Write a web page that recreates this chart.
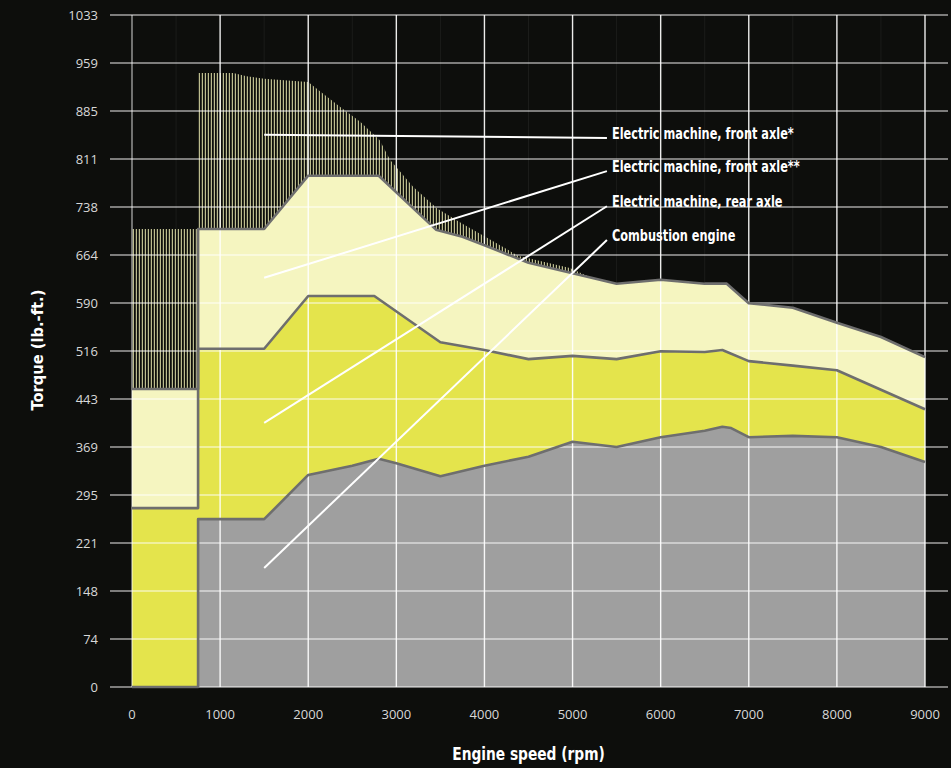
<!DOCTYPE html>
<html>
<head>
<meta charset="utf-8">
<script src="https://cdn.jsdelivr.net/npm/d3@7"></script>
<style>
  html, body { margin: 0; padding: 0; background: #0d0e0c; }
  #chart svg { display: block; }
</style>
</head>
<body>
<div id="chart"></div>
<script>
// engine speed (rpm) / torque (lb.-ft.), each array is the top edge of a stacked layer
const combustionRpm = [0, 750, 750, 1500, 2000, 2500, 2800, 3000, 3500, 4000, 4500, 5000, 5500, 6000, 6500, 6700, 6800, 7000, 7500, 8000, 8500, 9000];
const combustionTorque = [0, 0, 258, 258, 326, 340, 351, 344, 324, 340, 354, 377, 369, 384, 394, 400, 398, 384, 386, 384, 369, 346];

const rearAxleRpm = [0, 750, 750, 1500, 2000, 2750, 3500, 4000, 4500, 5000, 5500, 6000, 6500, 6700, 7000, 7500, 8000, 9000];
const rearAxleTorque = [275, 275, 520, 520, 601, 601, 530, 518, 504, 509, 504, 516, 515, 518, 501, 494, 487, 427];

const frontAxle2Rpm = [0, 750, 750, 1500, 2000, 2800, 3450, 3750, 4000, 4500, 5000, 5500, 6000, 6500, 6750, 7000, 7500, 8000, 8500, 9000];
const frontAxle2Torque = [458, 458, 704, 704, 786, 786, 703, 692, 679, 652, 636, 620, 626, 620, 620, 590, 583, 560, 538, 507];

const frontAxle1Rpm = [0, 750, 750, 1150, 1300, 1500, 2000, 2130, 2360, 2590, 2810, 2930, 3190, 3460, 3750, 4000, 4380, 4970, 5200];
const frontAxle1Torque = [704, 704, 944, 944, 939, 935, 930, 916, 892, 869, 841, 810, 769, 736, 712, 693, 663, 644, 630];

const xTickValues = [0, 1000, 2000, 3000, 4000, 5000, 6000, 7000, 8000, 9000];
const yTickLabels = ["0", "74", "148", "221", "295", "369", "443", "516", "590", "664", "738", "811", "885", "959", "1033"];

const legendLabels = [
  "Electric machine, front axle*",
  "Electric machine, front axle**",
  "Electric machine, rear axle",
  "Combustion engine",
];
// leader line anchors in data units: start inside the layer, end next to the label
const leaderStart = [[1500, 849], [1500, 629], [1500, 406], [1500, 183]];
const leaderEnd = [[5390, 844], [5390, 793], [5390, 739], [5390, 687]];

const condensed = "'Liberation Sans Narrow', 'DejaVu Sans Condensed', sans-serif";

class TorqueVis {
  constructor(_parentElement) {
    this.parentElement = _parentElement;
    this.initVis();
  }

  initVis() {
    let vis = this;

    vis.width = 951;
    vis.height = 768;
    vis.margin = { top: 15, right: 26, bottom: 81, left: 132 };

    vis.svg = d3
      .select("#" + vis.parentElement)
      .append("svg")
      .attr("width", vis.width)
      .attr("height", vis.height);

    vis.svg
      .append("rect")
      .attr("width", vis.width)
      .attr("height", vis.height)
      .attr("fill", "#0d0e0c");

    vis.x = d3
      .scaleLinear()
      .domain([0, 9000])
      .range([vis.margin.left, vis.width - vis.margin.right]);

    vis.y = d3
      .scaleLinear()
      .domain([0, 1033])
      .range([vis.height - vis.margin.bottom, vis.margin.top]);

    vis.yTickValues = yTickLabels.map((d, i) => (i * 1033) / (yTickLabels.length - 1));

    // vertical stripes for the front axle* layer
    let pattern = vis.svg
      .append("defs")
      .append("pattern")
      .attr("id", "stripes")
      .attr("patternUnits", "userSpaceOnUse")
      .attr("width", 3)
      .attr("height", 10);
    pattern.append("rect").attr("width", 3).attr("height", 10).attr("fill", "#0d0e0c");
    pattern.append("rect").attr("x", 0.8).attr("width", 1.1).attr("height", 10).attr("fill", "#cfcf9c");

    vis.layers = [
      { rpm: frontAxle1Rpm, torque: frontAxle1Torque, fill: "url(#stripes)", outline: false },
      { rpm: frontAxle2Rpm, torque: frontAxle2Torque, fill: "#f5f5c0", outline: true },
      { rpm: rearAxleRpm, torque: rearAxleTorque, fill: "#e4e44c", outline: true },
      { rpm: combustionRpm, torque: combustionTorque, fill: "#9f9f9f", outline: true },
    ];

    vis.updateVis();
  }

  updateVis() {
    let vis = this;
    let x0 = vis.x(0);
    let x1 = vis.x(9000);

    // faint minor grid
    vis.svg
      .append("g")
      .selectAll("line")
      .data(d3.range(500, 9000, 1000))
      .join("line")
      .attr("x1", (d) => vis.x(d))
      .attr("x2", (d) => vis.x(d))
      .attr("y1", vis.y(1033))
      .attr("y2", vis.y(0))
      .attr("stroke", "#ffffff")
      .attr("stroke-opacity", 0.06);

    let area = d3
      .area()
      .x((d) => vis.x(d[0]))
      .y0(vis.y(0))
      .y1((d) => vis.y(d[1]));

    let line = d3
      .line()
      .x((d) => vis.x(d[0]))
      .y((d) => vis.y(d[1]));

    let points = (l) => l.rpm.map((r, i) => [r, l.torque[i]]);

    vis.svg
      .append("g")
      .selectAll("path")
      .data(vis.layers)
      .join("path")
      .attr("d", (d) => area(points(d)))
      .attr("fill", (d) => d.fill);

    // grid over the fills
    vis.svg
      .append("g")
      .selectAll("line")
      .data(vis.yTickValues)
      .join("line")
      .attr("x1", 110)
      .attr("x2", 948)
      .attr("y1", (d) => vis.y(d))
      .attr("y2", (d) => vis.y(d))
      .attr("stroke", "#ffffff")
      .attr("stroke-opacity", 0.62)
      .attr("stroke-width", 1.5);

    vis.svg
      .append("g")
      .selectAll("line")
      .data(xTickValues)
      .join("line")
      .attr("x1", (d) => vis.x(d))
      .attr("x2", (d) => vis.x(d))
      .attr("y1", vis.y(1033))
      .attr("y2", vis.y(0))
      .attr("stroke", "#ffffff")
      .attr("stroke-opacity", (d) => (d === 0 ? 0.6 : 0.92))
      .attr("stroke-width", 1.4);

    vis.svg
      .append("g")
      .selectAll("path")
      .data(vis.layers.filter((d) => d.outline))
      .join("path")
      .attr("d", (d) => line(points(d)))
      .attr("fill", "none")
      .attr("stroke", "#6e6e6e")
      .attr("stroke-width", 2.6)
      .attr("stroke-linejoin", "round");

    // leader lines + labels
    vis.svg
      .append("g")
      .selectAll("line")
      .data(legendLabels)
      .join("line")
      .attr("x1", (d, i) => vis.x(leaderStart[i][0]))
      .attr("y1", (d, i) => vis.y(leaderStart[i][1]))
      .attr("x2", (d, i) => vis.x(leaderEnd[i][0]))
      .attr("y2", (d, i) => vis.y(leaderEnd[i][1]))
      .attr("stroke", "#ffffff")
      .attr("stroke-width", 2);

    vis.svg
      .append("g")
      .selectAll("text")
      .data(legendLabels)
      .join("text")
      .attr(
        "transform",
        (d, i) =>
          `translate(${vis.x(leaderEnd[i][0]) + 5},${vis.y(leaderEnd[i][1]) + 1}) scale(0.84,1)`
      )
      .attr("font-family", condensed)
      .attr("font-weight", "bold")
      .attr("font-size", 15)
      .attr("fill", "#ffffff")
      .text((d) => d);

    // tick labels
    vis.svg
      .append("g")
      .selectAll("text")
      .data(yTickLabels)
      .join("text")
      .attr("x", 98)
      .attr("y", (d, i) => vis.y(vis.yTickValues[i]))
      .attr("dy", "0.35em")
      .attr("text-anchor", "end")
      .attr("font-family", "'Open Sans', sans-serif")
      .attr("font-size", 13)
      .attr("fill", "#d8d8d8")
      .text((d) => d);

    vis.svg
      .append("g")
      .selectAll("text")
      .data(xTickValues)
      .join("text")
      .attr("x", (d) => vis.x(d))
      .attr("y", 714)
      .attr("dy", "0.35em")
      .attr("text-anchor", "middle")
      .attr("font-family", "'Open Sans', sans-serif")
      .attr("font-size", 13)
      .attr("fill", "#d8d8d8")
      .text((d) => d);

    // axis titles
    vis.svg
      .append("text")
      .attr("transform", `translate(${(x0 + x1) / 2},760) scale(0.9,1)`)
      .attr("text-anchor", "middle")
      .attr("font-family", condensed)
      .attr("font-weight", "bold")
      .attr("font-size", 17)
      .attr("fill", "#ffffff")
      .text("Engine speed (rpm)");

    vis.svg
      .append("text")
      .attr("transform", "translate(43,350) rotate(-90) scale(1.02,1)")
      .attr("text-anchor", "middle")
      .attr("font-family", condensed)
      .attr("font-weight", "bold")
      .attr("font-size", 16)
      .attr("fill", "#ffffff")
      .text("Torque (lb.-ft.)");
  }
}

new TorqueVis("chart");
</script>
</body>
</html>
